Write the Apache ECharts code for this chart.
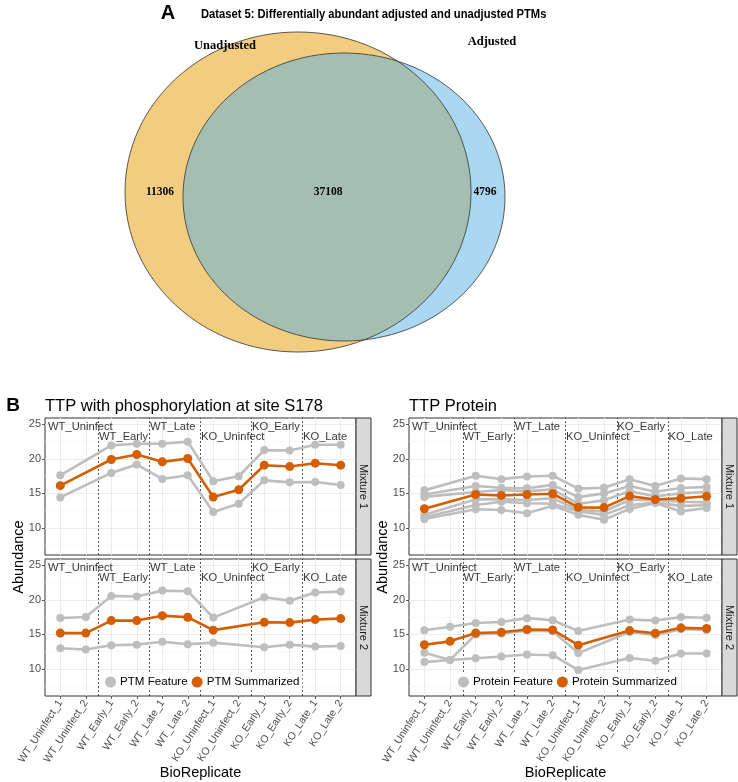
<!DOCTYPE html>
<html><head><meta charset="utf-8">
<script src="https://cdn.jsdelivr.net/npm/echarts@6/dist/echarts.min.js"></script>
<style>html,body{margin:0;padding:0;background:#fff}#c{width:738px;height:782px}</style>
</head><body><div id="c"></div>
<script>
// ---------------- data ----------------
const replicates = ['WT_Uninfect_1','WT_Uninfect_2','WT_Early_1','WT_Early_2','WT_Late_1','WT_Late_2',
  'KO_Uninfect_1','KO_Uninfect_2','KO_Early_1','KO_Early_2','KO_Late_1','KO_Late_2'];
const groups = ['WT_Uninfect','WT_Early','WT_Late','KO_Uninfect','KO_Early','KO_Late'];
const yTicks = [10, 15, 20, 25];
const mixtures = ['Mixture 1', 'Mixture 2'];
const vennSets = ['Unadjusted', 'Adjusted'];
const vennCounts = [11306, 37108, 4796]; // unadjusted only, both, adjusted only

const ptmMix1Features = [
  [17.62, null, 21.94, 22.18, 22.18, 22.48, 16.75, 17.48, 21.26, 21.21, 22.04, 22.04],
  [14.42, null, 17.96, 19.17, 17.09, 17.62, 12.33, 13.50, 16.89, 16.60, 16.65, 16.21]
];
const ptmMix1Summary = [16.12, null, 19.90, 20.63, 19.56, 20.05, 14.47, 15.53, 19.08, 18.88, 19.37, 19.08];
const ptmMix2Features = [
  [17.38, 17.52, 20.57, 20.48, 21.33, 21.24, 17.43, null, 20.38, 19.86, 21.05, 21.19],
  [13.00, 12.81, 13.43, 13.52, 13.95, 13.57, 13.81, null, 13.14, 13.52, 13.24, 13.33]
];
const ptmMix2Summary = [15.19, 15.19, 17.00, 17.00, 17.71, 17.48, 15.62, null, 16.76, 16.71, 17.14, 17.29];

const proteinMix1Features = [
  [15.44, null, 17.55, 17.06, 17.45, 17.55, 15.69, 15.83, 17.06, 16.08, 17.16, 17.06],
  [14.85, null, 16.08, 15.83, 15.74, 16.23, 14.46, 15.00, 16.08, 15.25, 15.78, 15.93],
  [14.50, null, 15.20, 15.50, 15.30, 15.60, 13.50, 14.00, 15.30, 14.60, 15.00, 15.20],
  [11.90, null, 14.14, 14.14, 14.05, 14.30, 12.60, 12.40, 14.05, 14.05, 13.80, 13.70],
  [11.57, null, 13.33, 13.80, 13.57, 13.50, 12.40, 11.90, 13.30, 13.70, 13.20, 13.30],
  [11.29, null, 12.71, 12.60, 12.14, 13.20, 11.90, 11.20, 12.76, 13.60, 12.40, 12.90]
];
const proteinMix1Summary = [12.79, null, 14.85, 14.71, 14.85, 14.95, 12.99, 12.95, 14.61, 14.12, 14.30, 14.58];
const proteinMix2Features = [
  [15.60, 16.10, 16.65, 16.80, 17.35, 17.05, 15.50, null, 17.15, 17.00, 17.50, 17.40],
  [12.35, 11.30, 15.00, 15.15, 15.55, 15.45, 12.30, null, 15.35, 14.90, 15.75, 15.65],
  [11.00, 11.30, 11.55, 11.80, 12.10, 12.00, 9.85, null, 11.60, 11.20, 12.25, 12.25]
];
const proteinMix2Summary = [13.50, 14.00, 15.20, 15.32, 15.72, 15.65, 13.45, null, 15.55, 15.18, 15.95, 15.85];

// ---------------- layout ----------------
const sans = "'Liberation Sans', Arial, sans-serif";
const serif = "'Liberation Serif', 'Times New Roman', serif";
const colX = [45, 409], colW = [311, 313], rowY = [418, 559], panelH = 137, stripW = 15;
const yMin = 6.1, yMax = 25.9, xMin = 0.4, xMax = 12.6;
const grey = '#bebebe', orange = '#D55E00';

const panels = [
  {col: 0, row: 0, feats: ptmMix1Features, sum: ptmMix1Summary, fName: 'PTM Feature', sName: 'PTM Summarized'},
  {col: 0, row: 1, feats: ptmMix2Features, sum: ptmMix2Summary, fName: 'PTM Feature', sName: 'PTM Summarized'},
  {col: 1, row: 0, feats: proteinMix1Features, sum: proteinMix1Summary, fName: 'Protein Feature', sName: 'Protein Summarized'},
  {col: 1, row: 1, feats: proteinMix2Features, sum: proteinMix2Summary, fName: 'Protein Feature', sName: 'Protein Summarized'}
];
const xTickValues = replicates.map((_, i) => i + 1);
const boundaries = groups.slice(1).map((_, k) => 2 * (k + 1) + 0.5);
const minorY = yTicks.map(t => t - 2.5);
const toPts = arr => arr.map((v, i) => v == null ? null : [i + 1, v]).filter(p => p);

const grids = [], xAxes = [], yAxes = [], series = [];
panels.forEach((p, i) => {
  grids.push({left: colX[p.col], top: rowY[p.row], width: colW[p.col], height: panelH,
    show: true, borderColor: '#333', borderWidth: 1, backgroundColor: '#fff'});
  const bottom = p.row === 1;
  xAxes.push({type: 'value', gridIndex: i, min: xMin, max: xMax, minInterval: 1, maxInterval: 1,
    axisLine: {show: false},
    axisTick: {show: bottom, length: 3, customValues: xTickValues, lineStyle: {color: '#333', width: 0.8}},
    axisLabel: {show: bottom, customValues: xTickValues, rotate: 57, fontSize: 10.5, color: '#4d4d4d', fontFamily: sans, margin: 5,
      formatter: v => (Number.isInteger(v) && v >= 1 && v <= replicates.length) ? replicates[v - 1] : ''},
    splitLine: {show: true, lineStyle: {color: '#ebebeb', width: 1}}});
  yAxes.push({type: 'value', gridIndex: i, min: yMin, max: yMax, minInterval: 5, splitNumber: 4,
    axisLine: {show: false},
    axisTick: {show: true, length: 3, customValues: yTicks, lineStyle: {color: '#333', width: 0.8}},
    axisLabel: {customValues: yTicks, fontSize: 11, color: '#4d4d4d', fontFamily: sans, margin: 4},
    splitLine: {show: true, lineStyle: {color: '#ebebeb', width: 1}}});
  series.push({type: 'scatter', xAxisIndex: i, yAxisIndex: i, silent: true, z: 5,
    symbolSize: 1, itemStyle: {color: 'rgba(0,0,0,0)'},
    data: groups.map((g, k) => [0.5 + 2 * k, k % 2 === 0 ? 24.64 : 23.13, g]),
    label: {show: true, position: 'right', distance: 0, formatter: d => d.data[2], color: '#000',
      fontSize: 11.2, fontFamily: sans},
    markLine: {silent: true, symbol: 'none', label: {show: false}, animation: false, z: 1,
      data: [
        ...minorY.map(v => ({yAxis: v, lineStyle: {color: '#f4f4f4', width: 0.6, type: 'solid'}})),
        ...boundaries.map(b => ({xAxis: b, lineStyle: {color: '#111', width: 0.7, type: [2, 2]}}))
      ]}
  });
  p.feats.forEach(f => series.push({type: 'line', name: p.fName, xAxisIndex: i, yAxisIndex: i, z: 3,
    data: toPts(f), symbol: 'circle', symbolSize: 8, color: grey,
    lineStyle: {color: grey, width: 2.6}, itemStyle: {color: grey}, animation: false}));
  series.push({type: 'line', name: p.sName, xAxisIndex: i, yAxisIndex: i, z: 4,
    data: toPts(p.sum), symbol: 'circle', symbolSize: 9, color: orange,
    lineStyle: {color: orange, width: 2.6}, itemStyle: {color: orange}, animation: false});
});

const legendBase = {orient: 'horizontal', icon: 'circle', itemWidth: 11, itemHeight: 11, itemGap: 4,
  backgroundColor: '#fff', padding: [2, 3], selectedMode: false,
  textStyle: {fontSize: 11.6, color: '#000', fontFamily: sans, padding: [0, 0, 0, -1]}};
const legends = [
  Object.assign({}, legendBase, {data: ['PTM Feature', 'PTM Summarized'], left: 102, top: 674}),
  Object.assign({}, legendBase, {data: ['Protein Feature', 'Protein Summarized'], left: 455, top: 674})
];

// ---------------- graphic: venn, titles, strips ----------------
const g = [];
const yellowE = {cx: 298, cy: 192, rx: 173, ry: 160}, blueE = {cx: 344, cy: 197, rx: 161, ry: 144};
g.push({type: 'ellipse', shape: yellowE, style: {fill: '#f3cd7f'}, z: 1});
g.push({type: 'ellipse', shape: blueE, style: {fill: 'rgba(85,177,229,0.5)'}, z: 2});
g.push({type: 'ellipse', shape: yellowE, style: {fill: 'none', stroke: '#333', lineWidth: 0.8}, z: 3});
g.push({type: 'ellipse', shape: blueE, style: {fill: 'none', stroke: '#333', lineWidth: 0.8}, z: 3});
const vText = (t, x, y, size) => ({type: 'text', x, y, z: 5,
  style: {text: t, fontFamily: serif, fontWeight: 'bold', fontSize: size, fill: '#000', align: 'center', verticalAlign: 'middle'}});
g.push(vText(vennSets[0], 225, 46, 12.5));
g.push(vText(vennSets[1], 492, 42, 12.5));
g.push(vText(String(vennCounts[0]), 160, 192, 11.5));
g.push(vText(String(vennCounts[1]), 328, 192, 11.5));
g.push(vText(String(vennCounts[2]), 485, 192, 11.5));
g.push({type: 'text', x: 168, y: 13, z: 5, style: {text: 'A', fontFamily: sans, fontWeight: 'bold', fontSize: 20, fill: '#000', align: 'center', verticalAlign: 'middle'}});
g.push({type: 'text', x: 201, y: 14, scaleX: 0.86, z: 5, style: {text: 'Dataset 5: Differentially abundant adjusted and unadjusted PTMs', fontFamily: sans, fontWeight: 'bold', fontSize: 13, fill: '#000', align: 'left', verticalAlign: 'middle'}});
// Part B
g.push({type: 'text', x: 13, y: 406, z: 5, style: {text: 'B', fontFamily: sans, fontWeight: 'bold', fontSize: 19, fill: '#000', align: 'center', verticalAlign: 'middle'}});
g.push({type: 'text', x: colX[0], y: 406, z: 5, style: {text: 'TTP with phosphorylation at site S178', fontFamily: sans, fontSize: 16.5, fill: '#000', align: 'left', verticalAlign: 'middle'}});
g.push({type: 'text', x: colX[1], y: 406, z: 5, style: {text: 'TTP Protein', fontFamily: sans, fontSize: 16.5, fill: '#000', align: 'left', verticalAlign: 'middle'}});
[0, 1].forEach(c => {
  const midY = (rowY[0] + rowY[1] + panelH) / 2;
  g.push({type: 'text', x: colX[c] - 26, y: midY, rotation: Math.PI / 2, z: 5,
    style: {text: 'Abundance', fontFamily: sans, fontSize: 14.5, fill: '#000', align: 'center', verticalAlign: 'middle'}});
  g.push({type: 'text', x: colX[c] + colW[c] / 2, y: 773, z: 5,
    style: {text: 'BioReplicate', fontFamily: sans, fontSize: 14.5, fill: '#000', align: 'center', verticalAlign: 'middle'}});
  [0, 1].forEach(r => {
    const sx = colX[c] + colW[c];
    g.push({type: 'rect', shape: {x: sx, y: rowY[r], width: stripW, height: panelH}, z: 4,
      style: {fill: '#d9d9d9', stroke: '#333', lineWidth: 1}});
    g.push({type: 'text', x: sx + stripW / 2, y: rowY[r] + panelH / 2, rotation: -Math.PI / 2, z: 5,
      style: {text: mixtures[r], fontFamily: sans, fontSize: 11, fill: '#1a1a1a', align: 'center', verticalAlign: 'middle'}});
  });
});

const chart = echarts.init(document.getElementById('c'), null, {renderer: 'canvas'});
chart.setOption({
  animation: false,
  backgroundColor: '#fff',
  grid: grids, xAxis: xAxes, yAxis: yAxes, series,
  legend: legends,
  graphic: {elements: g}
});
</script></body></html>
